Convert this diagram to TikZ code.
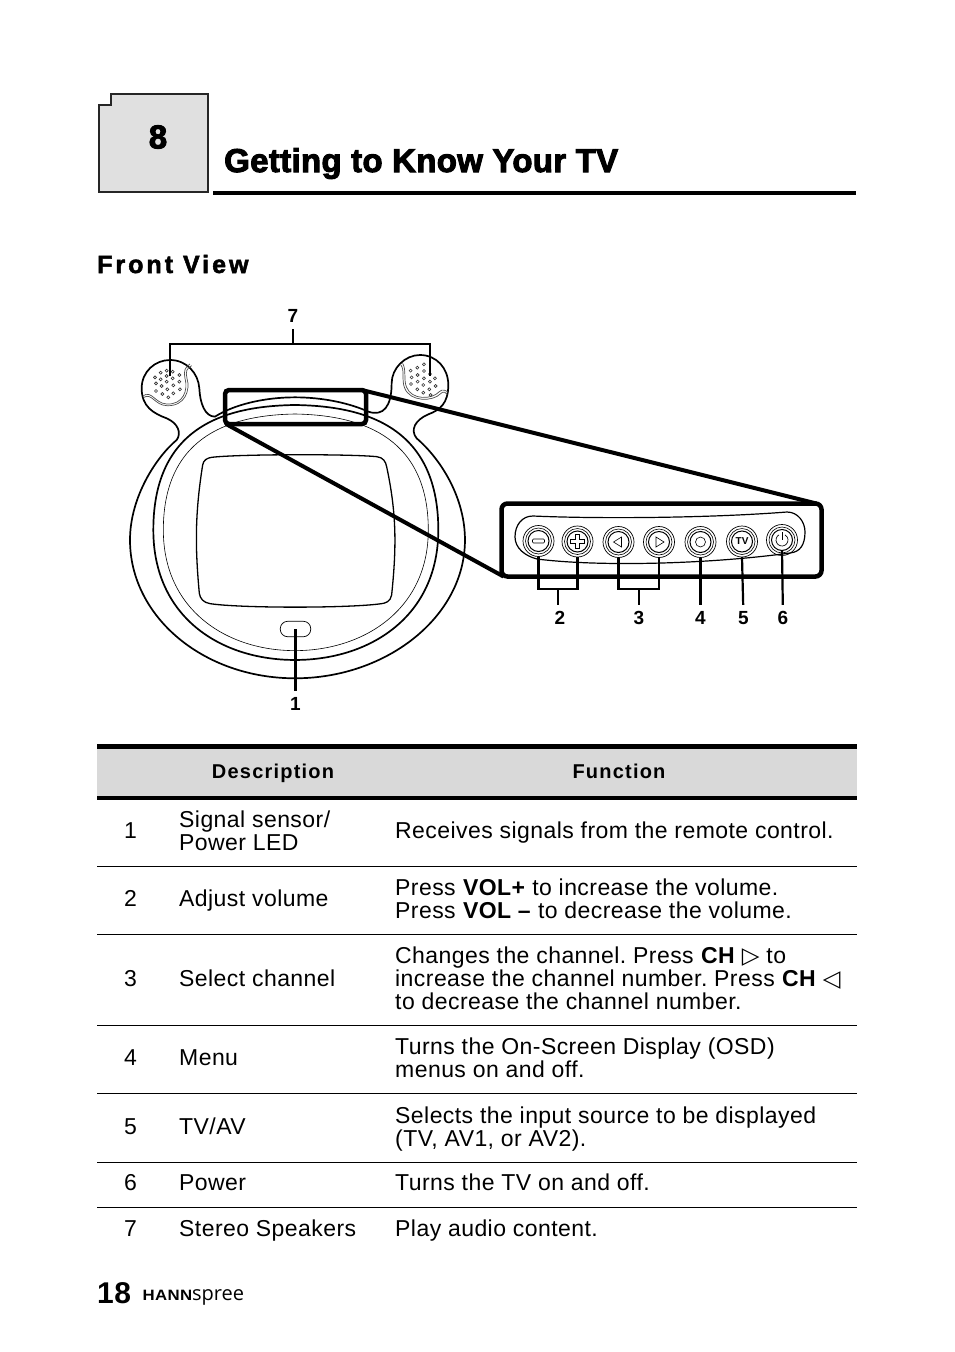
\documentclass[tikz,border=0pt]{standalone}
\usepackage{fontspec}
\usepackage{graphicx}
\setmainfont{Liberation Sans}[LetterSpace=1.9]
\newfontfamily\headfont{Liberation Sans}[FakeBold=3,LetterSpace=1]
\newfontfamily\subheadfont{Liberation Sans}[FakeBold=2,LetterSpace=12]
\newfontfamily\tableheadfont{Liberation Sans}[LetterSpace=6]
\newfontfamily\logofont{Open Sans}
\newfontfamily\symfont{DejaVu Sans}
\usetikzlibrary{positioning}
\frenchspacing

\begin{document}
\begin{tikzpicture}[x=1pt,y=-1pt,
        leader/.style={draw, line width=2.2pt},
        callout_line/.style={draw, line width=4pt},
        device/.style={draw, line width=1.7pt},
        hairline/.style={draw, line width=0.6pt},
        number_lbl/.style={inner sep=0pt, minimum height=26pt, font=\fontsize{19}{19}\selectfont\bfseries},
        button/.style={draw, circle, line width=0.7pt, minimum size=31pt, inner sep=0pt, outer sep=0pt},
        body_txt/.style={inner sep=0pt, anchor=west, align=left, yshift=-3pt, font=\fontsize{23}{23}\selectfont, execute at begin node=\strut, execute at end node=\strut},
        head_txt/.style={inner sep=0pt, anchor=base, font=\fontsize{20}{20}\tableheadfont\bfseries},
        row_rule/.style={draw, line width=1pt}]
    \useasboundingbox (0,0) rectangle (954,1352);

    % chapter heading
    \draw[line width=2.4pt, draw=black!85, fill=black!12] (99,105) -- (110.7,105) -- (110.7,94) -- (208,94) -- (208,192) -- (99,192) -- cycle;
    \node (chapter_no) [inner sep=0pt, font=\fontsize{33}{33}\headfont\bfseries] at (158,137) {8};
    \node (title) [inner sep=0pt, anchor=base west, font=\fontsize{33}{33}\headfont\bfseries] at (224,172) {Getting to Know Your TV};
    \draw[line width=4pt] (213,193) -- (856,193);
    \node (front_view) [inner sep=0pt, anchor=base west, font=\fontsize{25}{25}\subheadfont\bfseries] at (97,273) {Front View};

    % the set, in crop coordinates
    \begin{scope}[x=0.3333pt, y=-0.3333pt, xshift=120pt, yshift=-300pt]
        \draw[device] (525,1135) .. controls (250,1135) and (30,950) .. (30,720)
            .. controls (30,590) and (110,470) .. (170,420)
            .. controls (185,400) and (175,370) .. (140,355)
            .. controls (100,340) and (65,320) .. (65,265)
            .. controls (65,215) and (105,180) .. (150,180)
            .. controls (200,180) and (235,220) .. (238,265)
            .. controls (240,310) and (255,350) .. (285,350)
            .. controls (340,315) and (430,292) .. (525,292)
            .. controls (610,292) and (690,310) .. (745,335)
            .. controls (790,350) and (815,320) .. (815,250)
            .. controls (815,205) and (855,165) .. (900,165)
            .. controls (950,165) and (985,205) .. (985,255)
            .. controls (985,310) and (960,330) .. (925,343)
            .. controls (885,360) and (870,390) .. (890,415)
            .. controls (960,475) and (1035,590) .. (1035,720)
            .. controls (1035,950) and (800,1135) .. (525,1135);
        \draw[device] (525,315) .. controls (330,318) and (100,370) .. (100,690)
            .. controls (100,950) and (300,1080) .. (525,1080)
            .. controls (750,1080) and (955,950) .. (955,690)
            .. controls (955,370) and (720,318) .. (525,315);
        \draw[hairline] (525,342) .. controls (350,345) and (130,395) .. (130,690)
            .. controls (130,930) and (320,1052) .. (525,1052)
            .. controls (730,1052) and (925,930) .. (925,690)
            .. controls (925,395) and (700,345) .. (525,342);
        % screen
        \draw[line width=1.3pt] (275,472) .. controls (360,462) and (690,462) .. (770,470)
            .. controls (790,472) and (797,485) .. (800,500)
            .. controls (830,640) and (830,740) .. (815,885)
            .. controls (812,905) and (795,910) .. (785,911)
            .. controls (690,925) and (360,925) .. (270,911)
            .. controls (250,908) and (240,895) .. (238,880)
            .. controls (225,740) and (225,640) .. (248,495)
            .. controls (250,480) and (262,474) .. (275,472);
        % speaker grilles
        \draw[line width=0.7pt, black!70] (70,287) .. controls (95,270) and (105,310) .. (140,312) .. controls (190,315) and (205,270) .. (195,235) .. controls (190,215) and (195,200) .. (210,192);
        \draw[line width=0.7pt, black!70] (72,292) .. controls (95,278) and (105,316) .. (140,317) .. controls (195,320) and (212,270) .. (201,235) .. controls (196,215) and (200,205) .. (215,197);
        \draw[line width=0.7pt, black!70] (848,190) .. controls (860,210) and (850,240) .. (860,262) .. controls (875,300) and (935,300) .. (958,275) .. controls (968,265) and (980,272) .. (985,278);
        \draw[line width=0.7pt, black!70] (843,195) .. controls (855,212) and (844,240) .. (854,264) .. controls (870,306) and (938,306) .. (962,281) .. controls (970,272) and (978,277) .. (982,283);
        \foreach \dotx/\doty in {105/232,122/218,140/212,158/215,108/250,122/238,140/245,158/235,178/225,108/273,125/258,142/268,160/256,178/245,127/282,145/292,160/280,180/268,140/228,872/212,892/203,912/193,875/232,893/225,912/213,930/222,873/252,893/245,912/235,930/245,945/235,892/268,910/255,928/268,947/258,910/278,932/285}
            \draw[line width=0.6pt, black!80] (\dotx,\doty) circle[radius=1.5pt];
    \end{scope}

    % signal sensor and bracket of the speakers
    \node (led) [draw, rectangle, rounded corners=7.5pt, line width=0.7pt, minimum width=30.5pt, minimum height=15.5pt, inner sep=0pt] at (295.5,629) {};
    \node (lbl_1) [number_lbl] at (295.5,704) {1};
    \draw[leader] (led.center) -- (lbl_1);
    \node (lbl_7) [number_lbl] at (293,316) {7};
    \coordinate (speaker_l) at (170,376);
    \coordinate (speaker_r) at (430,376);
    \coordinate (bracket_7) at (293,344);
    \draw[leader] (speaker_l) |- (bracket_7) -| (speaker_r);
    \draw[leader] (bracket_7) -- (lbl_7);

    % control panel and its enlargement
    \node (callout) [draw, rectangle, rounded corners=4pt, line width=4.5pt, minimum width=141pt, minimum height=34pt, inner sep=0pt, outer sep=0pt] at (295.5,407) {};
    \node (panel) [draw, rectangle, rounded corners=6pt, line width=4.5pt, minimum width=320pt, minimum height=73pt, inner sep=0pt, outer sep=0pt] at (661.5,540) {};
    \draw[callout_line] ([xshift=-4pt]callout.north east) -- ([xshift=-5pt]panel.north east);
    \draw[callout_line] ([xshift=1pt]callout.south west) -- ([xshift=2pt]panel.south west);
    \draw[line width=1.2pt] (515,537) .. controls (515,525) and (522,516) .. (533,516)
        .. controls (600,519) and (710,518) .. (787,512)
        .. controls (798,512) and (805,522) .. (805,532)
        .. controls (805,545) and (800,552) .. (790,553)
        .. controls (710,564) and (600,567) .. (537,559)
        .. controls (525,556) and (515,548) .. (515,537);

    \foreach \btnname/\btnx/\btny in {minus/538.5/541,plus/577.5/541.5,left/618.5/542,right/659/542,menu/700.5/542,tv/742/541.5,power/782/540} {
        \node (btn_\btnname) [button] at (\btnx,\btny) {};
        \draw[line width=0.6pt] (btn_\btnname.center) circle[radius=13pt];
        \draw[line width=1pt] (btn_\btnname.center) circle[radius=10.5pt];
    }
    \draw[line width=0.6pt, rounded corners=1pt] ([shift={(-6,-2)}]btn_minus.center) rectangle ([shift={(6,2)}]btn_minus.center);
    \draw[line width=0.6pt] ([shift={(-2,-7)}]btn_plus.center) -- ++(4,0) -- ++(0,5) -- ++(5,0) -- ++(0,4) -- ++(-5,0) -- ++(0,5) -- ++(-4,0) -- ++(0,-5) -- ++(-5,0) -- ++(0,-4) -- ++(5,0) -- cycle;
    \draw[line width=0.6pt] ([shift={(3,-5)}]btn_left.center) -- ++(0,10) -- ++(-8,-5) -- cycle;
    \draw[line width=0.6pt] ([shift={(-3,-5)}]btn_right.center) -- ++(0,10) -- ++(8,-5) -- cycle;
    \draw[line width=0.6pt] (btn_menu.center) circle[radius=5pt];
    \node (tv_glyph) [inner sep=0pt, font=\fontsize{10}{10}\selectfont\bfseries] at (btn_tv.center) {TV};
    \draw[line width=0.7pt] ([shift={(-3,-5.2)}]btn_power.center) arc[start angle=120, end angle=420, radius=6pt];
    \draw[line width=1pt] ([shift={(0,-8)}]btn_power.center) -- ++(0,8);

    \node (lbl_2) [number_lbl] at (560,618) {2};
    \node (lbl_3) [number_lbl] at (639,618) {3};
    \node (lbl_4) [number_lbl] at (700.5,618) {4};
    \node (lbl_5) [number_lbl] at (743.5,618) {5};
    \node (lbl_6) [number_lbl] at (783,618) {6};
    \coordinate (bracket_2) at (558,589);
    \coordinate (bracket_3) at (639,589);
    \draw[leader] (btn_minus.south) |- (bracket_2) -| (btn_plus.south);
    \draw[leader] (bracket_2) -- (lbl_2.north -| bracket_2);
    \draw[leader] (btn_left.south) |- (bracket_3) -| (btn_right.south);
    \draw[leader] (bracket_3) -- (lbl_3);
    \draw[leader] (btn_menu.south) -- (lbl_4);
    \draw[leader] (btn_tv.south) -- (lbl_5);
    \draw[leader] ([shift={(0,10)}]btn_power.center) -- (lbl_6);

    % table
    \fill[black!15] (97,747) rectangle (857,798);
    \draw[line width=5pt] (97,746.5) -- (857,746.5);
    \draw[line width=4pt] (97,798) -- (857,798);
    \foreach \ruley in {866.5,934.5,1025.5,1162.5,1207.5}
        \draw[row_rule] (97,\ruley) -- (857,\ruley);
    \draw[line width=1.6pt] (97,1093.5) -- (857,1093.5);
    \node (head_desc) [head_txt] at (273,778) {Description};
    \node (head_func) [head_txt] at (619,778) {Function};

    \foreach \rowno/\rowy in {1/831,2/899,3/979,4/1058,5/1127,6/1183,7/1229}
        \node (num_\rowno) [body_txt, anchor=center] at (130.5,\rowy) {\rowno};

    \node (desc_1) [body_txt] at (179,831) {Signal sensor/\\Power LED};
    \node (desc_2) [body_txt] at (179,899) {Adjust volume};
    \node (desc_3) [body_txt] at (179,979) {Select channel};
    \node (desc_4) [body_txt] at (179,1058) {Menu};
    \node (desc_5) [body_txt] at (179,1127) {TV/AV};
    \node (desc_6) [body_txt] at (179,1183) {Power};
    \node (desc_7) [body_txt] at (179,1229) {Stereo Speakers};

    \node (func_1) [body_txt] at (395,831) {Receives signals from the remote control.};
    \node (func_2) [body_txt] at (395,899) {Press \textbf{VOL+} to increase the volume.\\Press \textbf{VOL –} to decrease the volume.};
    \node (func_3) [body_txt] at (395,979) {Changes the channel. Press \textbf{CH} {\symfont ▷} to\\increase the channel number. Press \textbf{CH} {\symfont ◁}\\to decrease the channel number.};
    \node (func_4) [body_txt] at (395,1058) {Turns the On-Screen Display (OSD)\\menus on and off.};
    \node (func_5) [body_txt] at (395,1127) {Selects the input source to be displayed\\(TV, AV1, or AV2).};
    \node (func_6) [body_txt] at (395,1183) {Turns the TV on and off.};
    \node (func_7) [body_txt] at (395,1229) {Play audio content.};

    % footer
    \node (page_no) [inner sep=0pt, anchor=base west, font=\fontsize{30}{30}\selectfont\bfseries] at (97,1303) {18};
    \node (logo) [inner sep=0pt, anchor=base west] at (142.5,1300) {\scalebox{1.12}[1]{\fontsize{15}{15}\selectfont\bfseries HANN}{\fontsize{20}{20}\logofont spree}};
\end{tikzpicture}
\end{document}
